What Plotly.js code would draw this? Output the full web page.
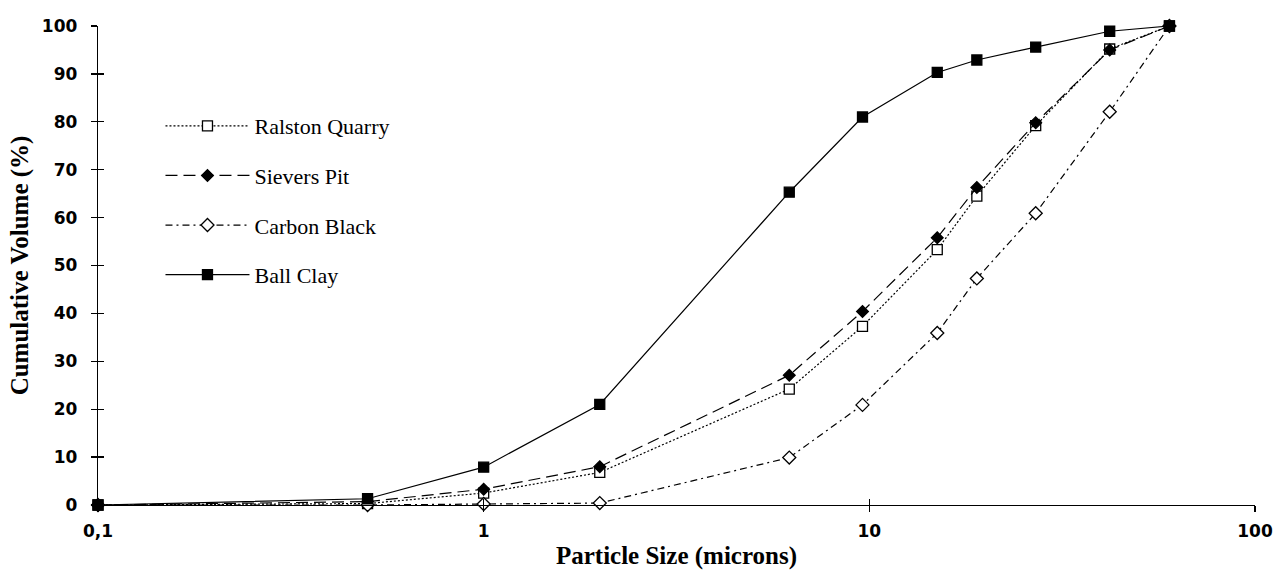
<!DOCTYPE html>
<html>
<head>
<meta charset="utf-8">
<script src="https://cdn.plot.ly/plotly-3.0.1.min.js"></script>
<style>html,body{margin:0;padding:0;background:#fff;}#chart{width:1275px;height:583px;}</style>
</head>
<body>
<div id="chart"></div>
<script>
const particleSize = [0.1, 0.5, 1, 2, 6.2, 9.6, 15, 19, 27, 42, 60];
const ralstonQuarry = [0, 0.3, 2.5, 6.8, 24.2, 37.3, 53.3, 64.5, 79.2, 95.2, 100];
const sieversPit = [0, 0.7, 3.3, 8.0, 27.1, 40.4, 55.8, 66.3, 79.8, 95.0, 100];
const carbonBlack = [0, 0, 0.2, 0.4, 9.9, 20.9, 35.9, 47.3, 60.9, 82.1, 100];
const ballClay = [0, 1.3, 7.9, 21.0, 65.3, 81.0, 90.3, 92.9, 95.6, 98.9, 100];
const seriesNames = ["Ralston Quarry", "Sievers Pit", "Carbon Black", "Ball Clay"];
const xTickVals = [0.1, 1, 10, 100];
const xTickText = ["0,1", "1", "10", "100"];
const yTickVals = [0, 10, 20, 30, 40, 50, 60, 70, 80, 90, 100];

const serif = "Liberation Serif, Times New Roman, serif";
const sans = "DejaVu Sans, Arial, sans-serif";

function mk(name, y, dash, symbol, fill, size, group) {
  return {
    x: particleSize, y: y, name: name, type: "scatter", mode: "lines+markers",
    line: {color: "#000", width: 1.2, dash: dash},
    marker: {symbol: symbol, color: fill, size: size, line: {color: "#000", width: 1.3}},
    cliponaxis: false, legendgroup: group
  };
}

const data = [
  mk(seriesNames[0], ralstonQuarry, "2px,2px", "square", "#fff", 10, "a"),
  mk(seriesNames[1], sieversPit, "12px,6px", "diamond", "#000", 9, "b"),
  mk(seriesNames[2], carbonBlack, "7px,4px,2px,4px", "diamond", "#fff", 10, "c"),
  mk(seriesNames[3], ballClay, "solid", "square", "#000", 10, "d"),
  {x: [0.1], y: [0], xaxis: "x2", yaxis: "y2", mode: "markers", marker: {opacity: 0}, showlegend: false, hoverinfo: "skip"}
];

const layout = {
  width: 1275, height: 583,
  margin: {l: 98, r: 20, t: 26, b: 78},
  paper_bgcolor: "#fff", plot_bgcolor: "#fff",
  showlegend: true,
  legend: {
    x: 0.054, y: 0.835, xanchor: "left", yanchor: "top",
    font: {family: serif, size: 22, color: "#000"},
    bgcolor: "rgba(0,0,0,0)", tracegroupgap: 18, itemwidth: 84
  },
  xaxis: {
    type: "log", range: [-1, 2], showgrid: false, zeroline: false,
    showline: true, linecolor: "#000", linewidth: 1.3,
    ticks: "outside", ticklen: 6, tickcolor: "#000", tickwidth: 1.3,
    tickvals: xTickVals, ticktext: xTickText, ticklabelstandoff: 4,
    tickfont: {family: sans, size: 17, color: "#000", weight: "bold"},
    title: {text: "Particle Size (microns)", font: {family: serif, size: 25, color: "#000", weight: "bold"}, standoff: 6}
  },
  yaxis: {
    range: [0, 100], showgrid: false, zeroline: false,
    showline: true, linecolor: "#000", linewidth: 1.3,
    ticks: "outside", ticklen: 6, tickcolor: "#000", tickwidth: 1.3,
    tickvals: yTickVals, ticklabelstandoff: 10,
    tickfont: {family: sans, size: 17, color: "#000", weight: "bold"},
    title: {text: "Cumulative Volume (%)", font: {family: serif, size: 25, color: "#000", weight: "bold"}, standoff: 6}
  },
  xaxis2: {
    type: "log", range: [-1, 2], overlaying: "x", showgrid: false, zeroline: false,
    showline: false, ticks: "inside", ticklen: 6, tickcolor: "#000", tickwidth: 1.3,
    tickvals: xTickVals, showticklabels: false, anchor: "y2", side: "bottom"
  },
  yaxis2: {
    range: [0, 100], overlaying: "y", showgrid: false, zeroline: false,
    showline: false, ticks: "inside", ticklen: 6, tickcolor: "#000", tickwidth: 1.3,
    tickvals: yTickVals, showticklabels: false, anchor: "x2", side: "left"
  }
};

Plotly.newPlot("chart", data, layout, {displayModeBar: false, staticPlot: true});
</script>
</body>
</html>
